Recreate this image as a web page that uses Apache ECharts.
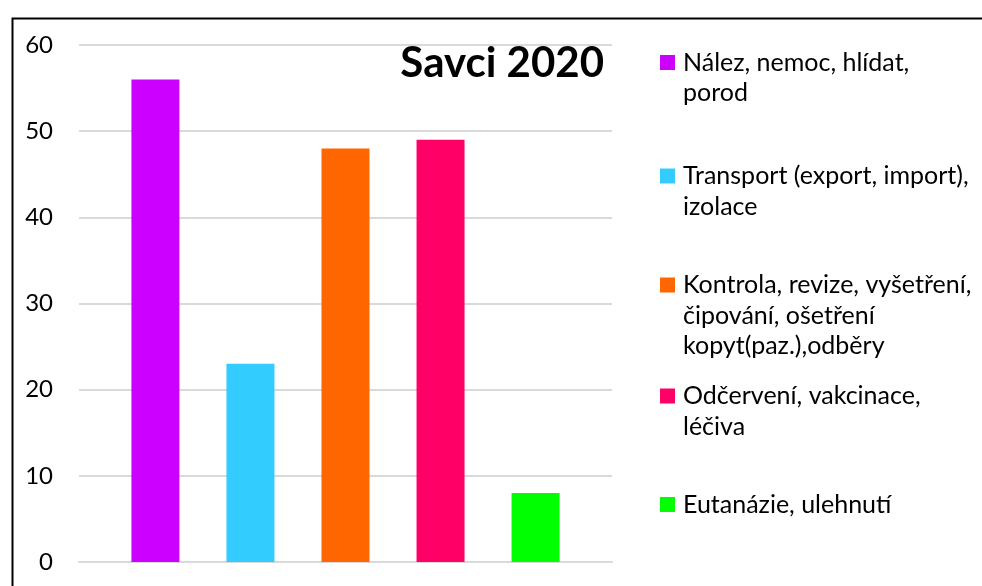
<!DOCTYPE html>
<html>
<head>
<meta charset="utf-8">
<script src="https://cdn.jsdelivr.net/npm/echarts@6/dist/echarts.min.js"></script>
<style>
  html, body { margin: 0; padding: 0; background: #fff; }
  #chart { width: 982px; height: 586px; }
</style>
</head>
<body>
<div id="chart"></div>
<script>
// data
const categories = ['Savci 2020'];
const seriesNames = [
  'Nález, nemoc, hlídat,\nporod',
  'Transport (export, import),\nizolace',
  'Kontrola, revize, vyšetření,\nčipování, ošetření\nkopyt(paz.),odběry',
  'Odčervení, vakcinace,\nléčiva',
  'Eutanázie, ulehnutí'
];
const seriesValues = [56, 23, 48, 49, 8];
const seriesColors = ['#CC00FF', '#33CCFF', '#FF6600', '#FF0066', '#00FF00'];
const yTicks = [0, 10, 20, 30, 40, 50, 60];

// vertical centre of each legend marker
const legendY = [62.5, 176, 285, 396, 504.5];
const LH = 30.5;
const SQ = 15;      // marker size
const ICON_W = 18;  // marker + extra gap before the text
const FONT = 'Lato, "Open Sans", sans-serif';

const chart = echarts.init(document.getElementById('chart'));

// ECharts centres a multi-line legend label on its marker; Excel puts the
// marker on the first line, so the icon is a tall path with the square on top
function topSquareIcon(lines) {
  const h = lines * LH;
  const y0 = LH / 2 - SQ / 2;
  return 'path://M0,0L0,0M' + ICON_W + ',' + h + 'L' + ICON_W + ',' + h +
    'M0,' + y0 + 'L' + SQ + ',' + y0 + 'L' + SQ + ',' + (y0 + SQ) + 'L0,' + (y0 + SQ) + 'Z';
}

const legends = seriesNames.map((name, i) => {
  const lines = name.split('\n').length;
  return {
    data: [name],
    left: 660,
    top: legendY[i] - LH / 2,
    padding: 0,
    icon: topSquareIcon(lines),
    itemWidth: ICON_W,
    itemHeight: lines * LH,
    itemGap: 0,
    selectedMode: false,
    textStyle: {
      fontFamily: FONT,
      fontSize: 25,
      color: '#000',
      lineHeight: LH
    }
  };
});

chart.setOption({
  animation: false,
  title: {
    text: categories[0],
    right: 378,
    top: 42,
    padding: 0,
    textStyle: { fontFamily: FONT, fontSize: 42, fontWeight: 'bold', color: '#000' }
  },
  legend: legends,
  grid: { left: 79, right: 370, top: 45, bottom: 24 },
  xAxis: {
    type: 'category',
    data: categories,
    axisLine: { lineStyle: { color: '#d9d9d9', width: 2 } },
    axisTick: { show: false },
    axisLabel: { show: false }
  },
  yAxis: {
    type: 'value',
    min: yTicks[0],
    max: yTicks[yTicks.length - 1],
    interval: 10,
    axisLine: { show: false },
    axisTick: { show: false },
    axisLabel: { fontFamily: FONT, fontSize: 24, color: '#000', margin: 26 },
    splitLine: { lineStyle: { color: '#d9d9d9', width: 2 } }
  },
  series: seriesNames.map((name, i) => ({
    type: 'bar',
    name: name,
    data: [seriesValues[i]],
    barWidth: 48,
    barGap: '98%',
    itemStyle: { color: seriesColors[i] }
  })),
  graphic: [{
    type: 'rect',
    left: 10,
    top: 16,
    shape: { width: 1100, height: 700 },
    style: { fill: null, stroke: '#000', lineWidth: 2 },
    silent: true
  }]
});
</script>
</body>
</html>
